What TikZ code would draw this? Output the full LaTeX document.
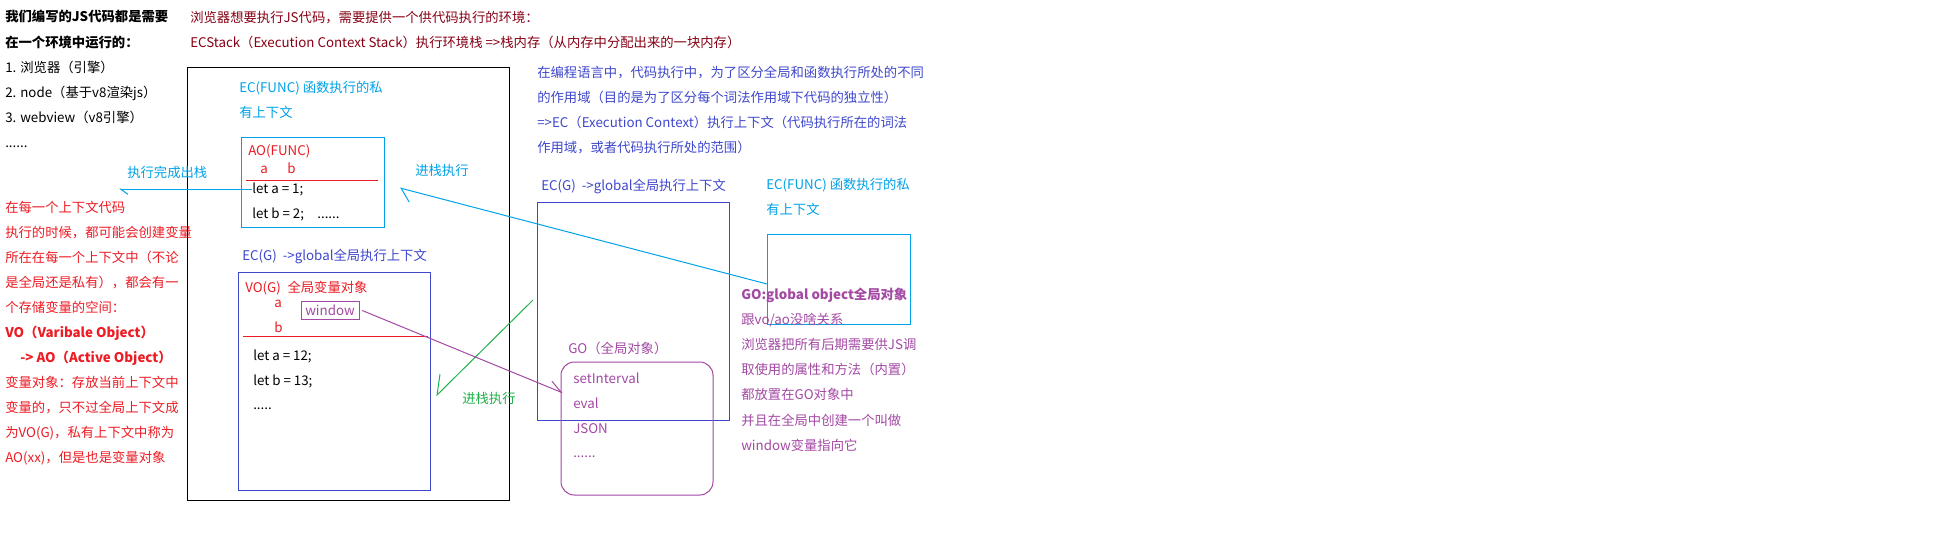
\documentclass[tikz,border=0pt]{standalone}
\usepackage{fontspec}
\setmainfont{Noto Sans CJK SC}
\usetikzlibrary{arrows.meta}
\definecolor{pRed}{HTML}{ED1C24}
\definecolor{pIndigo}{HTML}{3F48CC}
\definecolor{pCyan}{HTML}{00A2E8}
\definecolor{pPurple}{HTML}{A349A4}
\definecolor{pGreen}{HTML}{22B14C}
\definecolor{pMaroon}{HTML}{880015}

\begin{document}
\begin{tikzpicture}[x=0.75pt, y=-0.75pt,
    txt/.style={anchor=base west, inner sep=0pt},
    frame/.style={line width=0.75pt},
    link/.style={line width=0.75pt}]
\useasboundingbox[fill=white] (0,0) rectangle (1954,532);

% left column
\node[txt, font=\bfseries] (need1) at (5,21) {我们编写的JS代码都是需要};
\node[txt, font=\bfseries] (need2) at (5,47) {在一个环境中运行的：};
\node[txt] (env1) at (5,72) {1. 浏览器（引擎）};
\node[txt] (env2) at (5,97) {2. node（基于v8渲染js）};
\node[txt] (env3) at (5,122) {3. webview（v8引擎）};
\node[txt] (env4) at (5,147) {......};

\foreach \t [count=\i from 0] in {在每一个上下文代码, 执行的时候，都可能会创建变量, 所在在每一个上下文中（不论, 是全局还是私有），都会有一, 个存储变量的空间：}
  \node[txt, text=pRed] (note\i) at (5,212+25*\i) {\t};
\node[txt, text=pRed, font=\bfseries] (voName) at (5,337) {VO（Varibale Object）};
\node[txt, text=pRed, font=\bfseries] (aoName) at (20,362) {-> AO（Active Object）};
\foreach \t [count=\i from 0] in {变量对象：存放当前上下文中, 变量的，只不过全局上下文成, 为VO(G)，私有上下文中称为, AO(xx)，但是也是变量对象}
  \node[txt, text=pRed] (vo\i) at (5,387+25*\i) {\t};

% top text
\node[txt, text=pMaroon] (stack1) at (190,22) {浏览器想要执行JS代码，需要提供一个供代码执行的环境：};
\node[txt, text=pMaroon] (stack2) at (190,47) {ECStack（Execution Context Stack）执行环境栈 =>栈内存（从内存中分配出来的一块内存）};

\foreach \t [count=\i from 0] in {在编程语言中，代码执行中，为了区分全局和函数执行所处的不同, 的作用域（目的是为了区分每个词法作用域下代码的独立性）, =>EC（Execution Context）执行上下文（代码执行所在的词法, 作用域，或者代码执行所处的范围）}
  \node[txt, text=pIndigo] (ec\i) at (537,77+25.3*\i) {\t};

% stack box
\draw[frame] (187,67) rectangle (509,500);

\node[txt, text=pCyan] (funcL1) at (239,92) {EC(FUNC) 函数执行的私};
\node[txt, text=pCyan] (funcL2) at (239,117) {有上下文};
\draw[frame, pCyan] (241,137) rectangle (384,227);
\node[txt, text=pRed] (aoF) at (248,155) {AO(FUNC)};
\node[txt, text=pRed] (aoA) at (260,173) {a};
\node[txt, text=pRed] (aoB) at (287,173) {b};
\draw[frame, pRed] (246,180) -- (378,180);
\node[txt] (letA1) at (252,193) {let a = 1;};
\node[txt] (letB2) at (252,218) {let b = 2;\quad ......};

\node[txt, text=pIndigo] (ecgL) at (242,260) {EC(G)\ \ ->global全局执行上下文};
\draw[frame, pIndigo] (238,272) rectangle (430,490);
\node[txt, text=pRed] (voG) at (245,292) {VO(G)\hspace{5pt}全局变量对象};
\node[txt, text=pRed] (voA) at (274,307) {a};
\node[txt, text=pRed] (voB) at (274,332) {b};
\node[draw=pPurple, line width=0.75pt, text=pPurple, minimum width=43.5pt, minimum height=14pt, inner sep=0pt] (window) at (330,310.5) {window};
\draw[frame, pRed] (243,336) -- (428,336);
\node[txt] (letA12) at (253,360) {let a = 12;};
\node[txt] (letB13) at (253,385) {let b = 13;};
\node[txt] (dotsG) at (253,409) {.....};

% global context
\node[txt, text=pIndigo] (ecgR) at (541,190) {EC(G)\ \ ->global全局执行上下文};
\draw[frame, pIndigo] (537,202) rectangle (729,420);

\node[txt, text=pPurple] (goTitle) at (568,353) {GO（全局对象）};
\draw[frame, pPurple, rounded corners=10pt] (561,362) rectangle (713,495);
\node[txt, text=pPurple] (go1) at (573,383) {setInterval};
\node[txt, text=pPurple] (go2) at (573,408) {eval};
\node[txt, text=pPurple] (go3) at (573,433) {JSON};
\node[txt, text=pPurple] (go4) at (573,457) {......};

% function context
\node[txt, text=pCyan] (funcR1) at (766,189) {EC(FUNC) 函数执行的私};
\node[txt, text=pCyan] (funcR2) at (766,214) {有上下文};
\draw[frame, pCyan] (767,234) rectangle (910,324);

\node[txt, text=pPurple, font=\bfseries] (goNote0) at (741,299) {GO:global object全局对象};
\foreach \t [count=\i from 1] in {跟vo/ao没啥关系, 浏览器把所有后期需要供JS调, 取使用的属性和方法（内置）, 都放置在GO对象中, 并且在全局中创建一个叫做, window变量指向它}
  \node[txt, text=pPurple] (goNote\i) at (741,299+25.2*\i) {\t};

% arrows
\node[txt, text=pCyan] (popLbl) at (127,177) {执行完成出栈};
\node[txt, text=pCyan] (pushLbl) at (415,175) {进栈执行};
\node[txt, text=pGreen] (pushLblG) at (462,403) {进栈执行};

\coordinate (popStart) at (252,189);
\coordinate (popEnd) at (119,189);
\coordinate (pushStart) at (767,284);
\coordinate (pushEnd) at (400,188);
\coordinate (greenStart) at (533,300);
\coordinate (greenEnd) at (436,396);
\coordinate (goEnd) at (563,393);

\draw[link, pCyan, -{Straight Barb[left, length=5.5pt, width=8pt]}] (popStart) -- (popEnd);
\draw[link, pCyan, -{Straight Barb[left, length=8.5pt, width=17pt]}] (pushStart) -- (pushEnd);
\draw[link, pGreen, -{Straight Barb[right, length=12.5pt, width=19pt]}] (greenStart) -- (greenEnd);
\draw[link, pPurple, -{Straight Barb[left, length=9.5pt, width=10pt]}] ([xshift=2pt]window.east) -- (goEnd);

\end{tikzpicture}
\end{document}
